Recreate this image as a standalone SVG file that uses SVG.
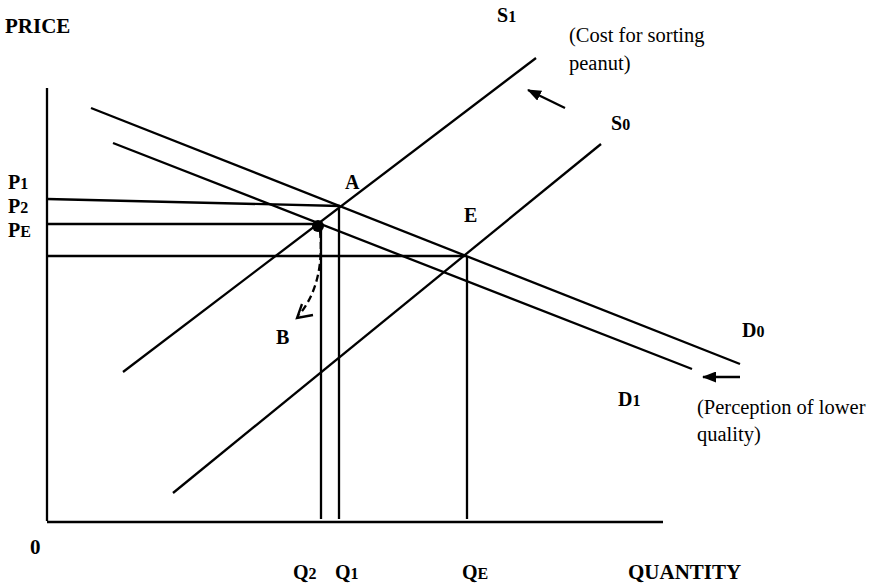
<svg xmlns="http://www.w3.org/2000/svg" width="873" height="583" viewBox="0 0 873 583">
<style>
.ln{stroke:#000;stroke-width:2.3;fill:none;stroke-linecap:butt}
.lb{font-family:"Liberation Serif","Times New Roman",serif;font-weight:bold;font-size:20px;fill:#000}
.big{font-size:21px}
.sub{font-size:16px}
.ann{font-family:"Liberation Serif","Times New Roman",serif;font-size:20.5px;fill:#000}
</style>
<defs>
<marker id="ah" viewBox="0 0 14 11" refX="13" refY="5.5" markerWidth="14" markerHeight="11" markerUnits="userSpaceOnUse" orient="auto">
<path d="M0,0 L14,5.5 L0,11 Z" fill="#000"/>
</marker>
</defs>
<rect width="873" height="583" fill="#fff"/>
<g id="axes">
<line class="ln" x1="47" y1="88" x2="47" y2="521"/>
<line class="ln" x1="47" y1="522" x2="663" y2="522" stroke-width="2.6"/>
</g>
<g id="curves">
<line id="D0" class="ln" x1="91" y1="108" x2="740" y2="364"/>
<line id="D1" class="ln" x1="113" y1="143" x2="692" y2="369"/>
<line id="S1" class="ln" x1="123" y1="372" x2="536" y2="58"/>
<line id="S0" class="ln" x1="173" y1="493" x2="601" y2="144"/>
</g>
<g id="guides">
<line class="ln" x1="47" y1="199" x2="340" y2="206"/>
<line class="ln" x1="47" y1="224" x2="318" y2="224"/>
<line class="ln" x1="47" y1="256" x2="466" y2="256"/>
<line class="ln" x1="321" y1="226" x2="321" y2="519"/>
<line class="ln" x1="339" y1="206" x2="339" y2="519"/>
<line class="ln" x1="467" y1="256" x2="467" y2="519"/>
</g>
<g id="connectors">
<circle cx="318" cy="226" r="6" fill="#000"/>
<path class="ln" d="M320 231 C323 262 318 292 299 315" stroke-dasharray="7 4"/>
<polyline class="ln" points="302,304 297,318 313,315"/>
<line class="ln" x1="565" y1="108" x2="528" y2="90" marker-end="url(#ah)"/>
<line class="ln" x1="740" y1="377" x2="703" y2="377" marker-end="url(#ah)"/>
</g>
<g id="labels">
<text class="lb big" x="5" y="33">PRICE</text>
<text class="lb" x="8" y="189">P<tspan class="sub">1</tspan></text>
<text class="lb" x="8" y="213">P<tspan class="sub">2</tspan></text>
<text class="lb" x="8" y="237">P<tspan class="sub">E</tspan></text>
<text class="lb" x="345" y="189">A</text>
<text class="lb" x="464" y="222">E</text>
<text class="lb" x="276" y="344">B</text>
<text class="lb" x="497" y="22">S<tspan class="sub">1</tspan></text>
<text class="lb" x="611" y="130">S<tspan class="sub">0</tspan></text>
<text class="lb" x="742" y="337">D<tspan class="sub">0</tspan></text>
<text class="lb" x="618" y="406">D<tspan class="sub">1</tspan></text>
<text class="lb big" x="30" y="554">0</text>
<text class="lb" x="293" y="579">Q<tspan class="sub">2</tspan></text>
<text class="lb" x="335" y="579">Q<tspan class="sub">1</tspan></text>
<text class="lb" x="462" y="579">Q<tspan class="sub">E</tspan></text>
<text class="lb big" x="628" y="579">QUANTITY</text>
</g>
<g id="annotations">
<text class="ann" x="569" y="42">(Cost for sorting</text>
<text class="ann" x="569" y="70">peanut)</text>
<text class="ann" x="697" y="414">(Perception of lower</text>
<text class="ann" x="697" y="441">quality)</text>
</g>
</svg>
